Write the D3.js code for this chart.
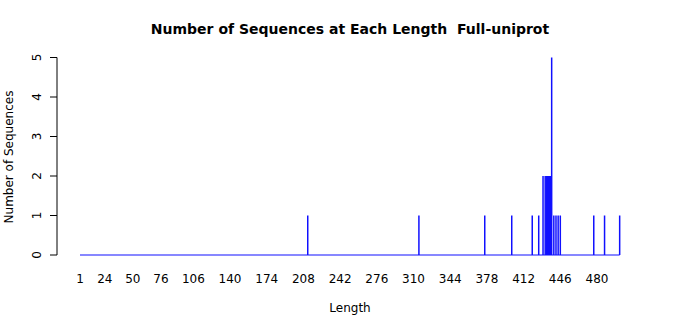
<!DOCTYPE html>
<html>
<head>
<meta charset="utf-8">
<script src="https://cdn.jsdelivr.net/npm/d3@7"></script>
<style>
  body { margin: 0; background: #fff; }
  svg { display: block; font-family: "DejaVu Sans", sans-serif; }
</style>
</head>
<body>
<svg id="chart" width="700" height="315"></svg>
<script>
// sequence lengths that occur, and how many sequences have each
const lengths = [212, 315, 376, 401, 420, 426, 430, 432, 433, 434, 435, 436, 437, 438, 440, 442, 444, 446, 477, 487, 501];
const counts = [1, 1, 1, 1, 1, 1, 2, 2, 2, 2, 2, 2, 2, 5, 1, 1, 1, 1, 1, 1, 1];
const xTicks = [1, 24, 50, 76, 106, 140, 174, 208, 242, 276, 310, 344, 378, 412, 446, 480];
const yTicks = [0, 1, 2, 3, 4, 5];
const minLen = 1;

const svg = d3.select("#chart");
const blue = "#1010ff";

let x = d3.scaleLinear().domain([1, 480]).range([80, 597]);
let y = d3.scaleLinear().domain([0, 5]).range([255, 57.5]);

// title (two spaces kept)
svg.append("text")
  .attr("x", 350)
  .attr("y", 34)
  .attr("text-anchor", "middle")
  .style("font-weight", "bold")
  .style("font-size", "14px")
  .style("white-space", "pre")
  .text("Number of Sequences at Each Length  Full-uniprot");

// y axis, R style: line only over tick range, rotated labels
const yAxis = svg.append("g").attr("transform", "translate(57,0)");
yAxis.append("line")
  .attr("x1", 0).attr("x2", 0)
  .attr("y1", y(0)).attr("y2", y(5))
  .attr("stroke", "#000");
yAxis.selectAll(".tick")
  .data(yTicks)
  .enter().append("line")
  .attr("x1", -7).attr("x2", 0)
  .attr("y1", (d) => y(d)).attr("y2", (d) => y(d))
  .attr("stroke", "#000");
yAxis.selectAll(".lab")
  .data(yTicks)
  .enter().append("text")
  .attr("transform", (d) => `translate(-16,${y(d)}) rotate(-90)`)
  .attr("text-anchor", "middle")
  .style("font-size", "12px")
  .text((d) => d);

svg.append("text")
  .attr("transform", "translate(13,157) rotate(-90)")
  .attr("text-anchor", "middle")
  .style("font-size", "12px")
  .text("Number of Sequences");

// x tick labels (no axis line)
svg.selectAll(".xlab")
  .data(xTicks)
  .enter().append("text")
  .attr("x", (d) => x(d))
  .attr("y", 283)
  .attr("text-anchor", "middle")
  .style("font-size", "12px")
  .text((d) => d);

svg.append("text")
  .attr("x", 350)
  .attr("y", 312)
  .attr("text-anchor", "middle")
  .style("font-size", "12px")
  .text("Length");

// zero line covering every length
svg.append("line")
  .attr("x1", x(minLen)).attr("x2", x(d3.max(lengths)))
  .attr("y1", y(0)).attr("y2", y(0))
  .attr("stroke", blue)
  .attr("stroke-width", 1.2);

// histogram-style spikes
const data = lengths.map((l, i) => ({ len: l, n: counts[i] }));
svg.selectAll(".spike")
  .data(data)
  .enter().append("line")
  .attr("x1", (d) => x(d.len)).attr("x2", (d) => x(d.len))
  .attr("y1", y(0)).attr("y2", (d) => y(d.n))
  .attr("stroke", blue)
  .attr("stroke-width", 1.5);
</script>
</body>
</html>
